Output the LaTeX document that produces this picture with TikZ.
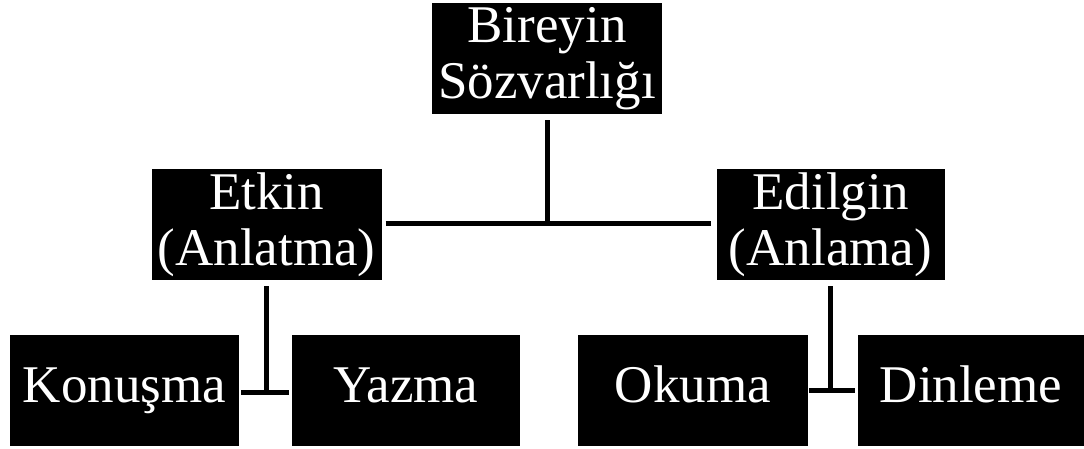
\documentclass[tikz,border=0pt]{standalone}
\usepackage{fontspec}
\setmainfont{Liberation Serif}
\begin{document}
\begin{tikzpicture}[x=1pt,y=-1pt,
  box/.style={fill=black,text=white,inner sep=0pt,align=center,
    minimum width=230pt,minimum height=111pt,
    font=\fontsize{53}{56}\selectfont},
  leaf/.style={box,text height=37pt,text depth=13pt},
  link/.style={line width=5pt,draw=black}]
\useasboundingbox (0,0) rectangle (1084,448);
% hierarchy boxes
\node[box] (root) at (547,58.5) {Bireyin\\Sözvarlığı};
\node[box] (act) at (266.5,224.5) {Etkin\\(Anlatma)};
\node[box,minimum width=228pt] (pas) at (830.5,224.5) {Edilgin\\(Anlama)};
\node[leaf,minimum width=229pt] (kon) at (124.5,390.5) {Konuşma};
\node[leaf,minimum width=228pt] (yaz) at (406,390.5) {Yazma};
\node[leaf] (oku) at (693,390.5) {Okuma};
\node[leaf,minimum width=226pt] (din) at (971,390.5) {Dinleme};
% junction points
\coordinate (j0) at (root.south |- 0,223);
\coordinate (j1) at (act.south |- 0,392);
\coordinate (j2) at (pas.south |- 0,390);
% connectors
\draw[link] ([yshift=-6pt]root.south) -- (j0);
\draw[link] ([xshift=4pt]act.east |- j0) -- ([xshift=-5pt]pas.west |- j0);
\draw[link] ([yshift=-6pt]act.south) -- (j1);
\draw[link] ([xshift=2pt]kon.east |- j1) -- ([xshift=-3pt]yaz.west |- j1);
\draw[link] ([yshift=-6pt]pas.south) -- (j2);
\draw[link] ([xshift=1pt]oku.east |- j2) -- ([xshift=-3pt]din.west |- j2);
\end{tikzpicture}
\end{document}
